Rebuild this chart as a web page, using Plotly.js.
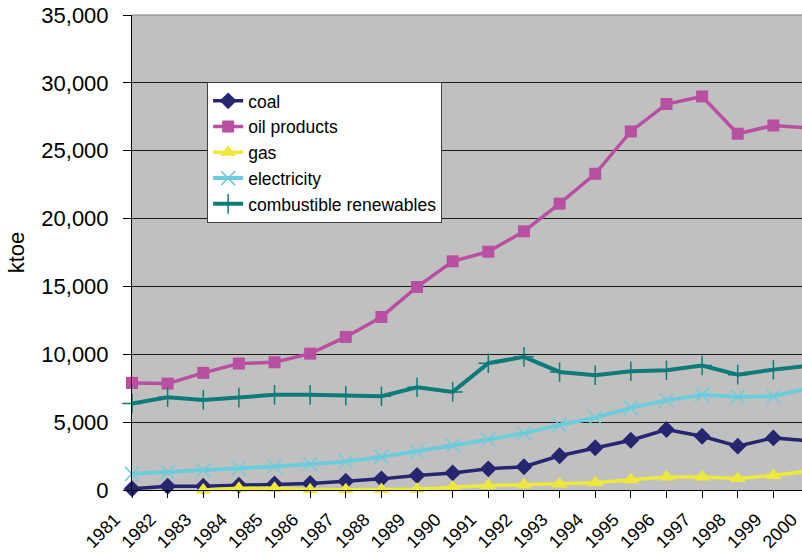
<!DOCTYPE html>
<html>
<head>
<meta charset="utf-8">
<script src="https://cdn.plot.ly/plotly-3.0.1.min.js"></script>
<style>
  html, body { margin: 0; padding: 0; overflow: hidden; background: #ffffff; }
  #chart { width: 820px; height: 552px; }
</style>
</head>
<body>
<div id="chart"></div>
<script>
// Final energy consumption by source, 1981-2000 (ktoe)
const years = ['1981','1982','1983','1984','1985','1986','1987','1988','1989','1990',
               '1991','1992','1993','1994','1995','1996','1997','1998','1999','2000'];

const coal        = [90, 280, 280, 350, 450, 480, 650, 820, 1070, 1260,
                     1560, 1710, 2520, 3110, 3670, 4460, 3960, 3230, 3840, 3620];
const oilProducts = [7890, 7840, 8630, 9320, 9410, 10050, 11280, 12750, 14960, 16850,
                     17560, 19060, 21100, 23300, 26420, 28440, 29000, 26250, 26860, 26680];
const gas         = [null, null, 0, 130, 130, 10, 20, 30, 60, 200,
                     330, 380, 450, 530, 750, 950, 950, 850, 1070, 1400];
const electricity = [1190, 1310, 1460, 1580, 1730, 1900, 2100, 2440, 2840, 3280,
                     3720, 4180, 4800, 5320, 6050, 6610, 7010, 6860, 6910, 7500];
const renewables  = [6370, 6840, 6640, 6810, 7010, 7010, 6940, 6910, 7570, 7230,
                     9340, 9810, 8700, 8460, 8750, 8820, 9170, 8500, 8870, 9150];

const seriesNames = ['coal', 'oil products', 'gas', 'electricity', 'combustible renewables'];
const yTickVals   = [0, 5000, 10000, 15000, 20000, 25000, 30000, 35000];

const FONT = 'Liberation Sans, Arial, Helvetica, sans-serif';

function series(name, values, color, symbol, size, lineWidth, thinMarker) {
  return {
    type: 'scatter',
    mode: 'lines+markers',
    name: name,
    x: years,
    y: values,
    connectgaps: false,
    cliponaxis: false,
    line: { color: color, width: lineWidth },
    marker: thinMarker
      ? { symbol: symbol, size: size, color: color, line: { color: color, width: 1.5 } }
      : { symbol: symbol, size: size, color: color, line: { width: 0 } }
  };
}

const data = [
  series(seriesNames[0], coal,        '#262670', 'diamond',     13, 3.5, false),
  series(seriesNames[1], oilProducts, '#B94FA0', 'square',      12, 3.5, false),
  series(seriesNames[2], gas,         '#EEE83A', 'triangle-up', 14, 3.5, false),
  series(seriesNames[3], electricity, '#6DCCDB', 'x-thin',      14, 4,   true),
  series(seriesNames[4], renewables,  '#0E7B7B', 'cross-thin',  14, 4,   true)
];

const layout = {
  width: 820,
  height: 552,
  margin: { l: 132, r: 11, t: 15, b: 62 },
  paper_bgcolor: '#ffffff',
  plot_bgcolor: '#C0C0C0',
  font: { family: FONT, size: 22, color: '#000000' },
  showlegend: true,
  legend: {
    x: 0.111, y: 0.859, xanchor: 'left', yanchor: 'top',
    bgcolor: '#ffffff', bordercolor: '#404040', borderwidth: 1,
    font: { family: FONT, size: 17.5, color: '#000000' },
    tracegroupgap: 0
  },
  xaxis: {
    type: 'category',
    range: [0, 19],
    tickvals: years,
    ticktext: years,
    tickangle: -45,
    tickfont: { family: FONT, size: 18, color: '#000000' },
    ticks: 'outside', ticklen: 7, tickcolor: '#000000', tickwidth: 1,
    ticklabelshift: -17,
    ticklabelstandoff: 4,
    showline: true, linecolor: '#000000', linewidth: 1,
    showgrid: false, zeroline: false, fixedrange: true
  },
  yaxis: {
    range: [0, 35000],
    tickvals: yTickVals,
    tickformat: ',d',
    tickfont: { family: FONT, size: 22, color: '#000000' },
    ticks: 'outside', ticklen: 8, tickcolor: '#000000', tickwidth: 1,
    ticklabelstandoff: 10,
    showline: true, linecolor: '#000000', linewidth: 1,
    showgrid: true, gridcolor: '#1a1a1a', gridwidth: 1,
    zeroline: false, fixedrange: true,
    title: { text: 'ktoe', font: { family: FONT, size: 22, color: '#000000' }, standoff: 10 }
  },
  shapes: [
    { type: 'line', xref: 'paper', yref: 'paper', x0: 0, x1: 1, y0: 1, y1: 1,
      line: { color: '#808080', width: 1 } }
  ]
};

Plotly.newPlot('chart', data, layout, { staticPlot: true, displayModeBar: false });
</script>
</body>
</html>
